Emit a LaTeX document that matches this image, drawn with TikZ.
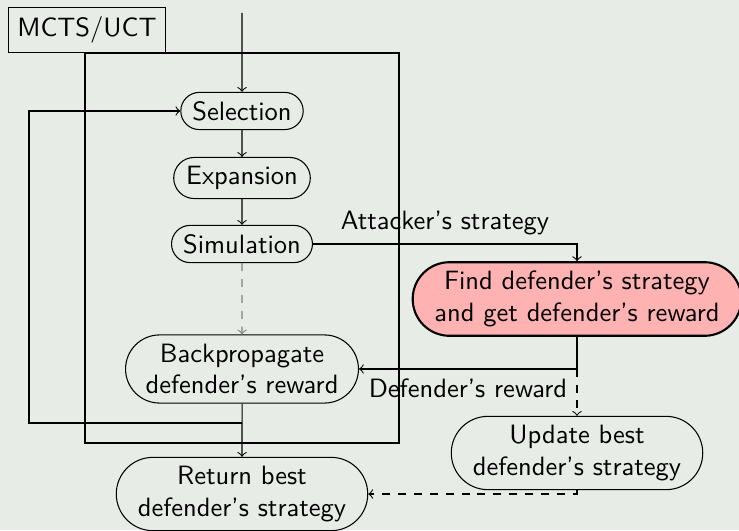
\documentclass[tikz,border=0pt]{standalone}
\usetikzlibrary{shapes.misc}
\definecolor{bgc}{RGB}{232,236,231}
\begin{document}
\begin{tikzpicture}[x=0.3774pt,y=-0.3774pt,font=\sffamily,
  proc/.style={rounded rectangle,draw,align=center},
  hot/.style={proc,fill=red!30,thick},
  conn/.style={->}]
\fill[bgc] (0,0) rectangle (739,530);
\useasboundingbox (0,0) rectangle (739,530);
\draw (85,53) rectangle (399,443);
\node[draw,fill=bgc,minimum width=59.6pt,minimum height=17pt] (mcts) at (87,30) {MCTS/UCT};
\node[proc] (sel) at (242,111) {Selection};
\node[proc] (exp) at (242,178) {Expansion};
\node[proc] (sim) at (242,244) {Simulation};
\node[proc] (back) at (242,369) {Backpropagate\\defender’s reward};
\node[proc] (ret) at (242,494) {Return best\\defender’s strategy};
\node[hot] (find) at (577,299) {Find defender’s strategy\\and get defender’s reward};
\node[proc] (upd) at (577,453) {Update best\\defender’s strategy};
\coordinate (top) at (242,13);
\coordinate (br) at (242,423);
\coordinate (loopc) at (29,423);
\draw[conn] (top) -- (sel);
\draw[conn] (sel) -- (exp);
\draw[conn] (exp) -- (sim);
\draw[conn,dashed,gray] (sim) -- (back);
\draw[conn] (back) -- (ret);
\draw[conn] (br) -- (loopc) |- (sel.west);
\draw[conn] (sim.east) -| node[pos=0.25,above]{Attacker’s strategy} (find.north);
\draw[conn] (find.south) |- node[pos=0.75,below]{Defender’s reward} (back.east);
\draw[conn,dashed] (find.south) -- (upd.north);
\draw[conn,dashed] (upd.south) |- (ret.east);
\end{tikzpicture}
\end{document}
